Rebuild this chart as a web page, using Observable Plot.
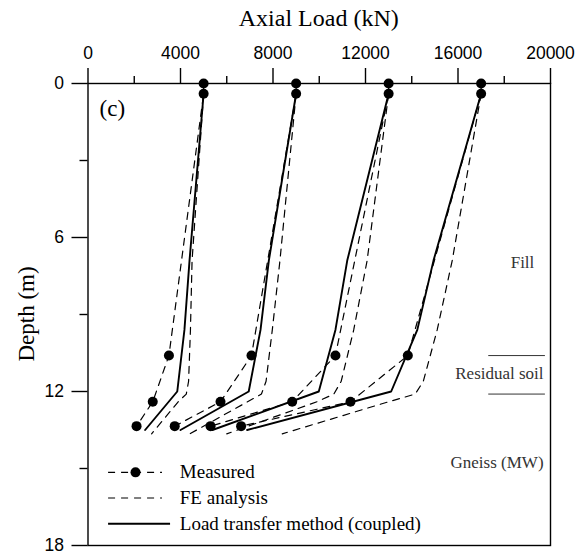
<!DOCTYPE html>
<html>
<head>
<meta charset="utf-8">
<script src="https://cdn.jsdelivr.net/npm/d3@7"></script>
<script src="https://cdn.jsdelivr.net/npm/@observablehq/plot@0.6"></script>
<style>
  body { margin: 0; background: #fff; }
  #chart { width: 587px; height: 553px; }
</style>
</head>
<body>
<div id="chart"></div>
<script>
// Measured (dashed with dots)
const measuredDepth = [0, 0.4, 10.6, 12.4, 13.35];
const measured1 = [5000, 5000, 3500, 2800, 2100];
const measured2 = [9000, 9000, 7070, 5730, 3750];
const measured3 = [13000, 13000, 10700, 8830, 5300];
const measured4 = [17000, 17000, 13830, 11350, 6620];

// FE analysis (dashed)
const feDepth = [0.4, 6.9, 9.6, 11.6, 12.1, 12.4, 13.65];
const fe1 = [5000, 4500, 4430, 4350, 4250, 3900, 2750];
const fe2 = [9000, 8300, 7970, 7700, 7500, 6900, 4400];
const fe3 = [13000, 12070, 11490, 10950, 10630, 9900, 6000];
const fe4 = [17000, 15750, 15100, 14500, 14150, 13000, 8400];

// Load transfer method (solid)
const ltDepth = [0.4, 6.9, 9.6, 12.0, 13.5];
const lt1 = [5000, 4390, 4170, 3860, 2470];
const lt2 = [9000, 7820, 7460, 6950, 4000];
const lt3 = [13000, 11210, 10700, 9980, 5380];
const lt4 = [17000, 14940, 14240, 13110, 6880];

// Layer annotations
const layerNames = ["Fill", "Residual soil", "Gneiss (MW)"];
const layerLabelX = [19300, 19700, 19700];
const layerLabelDepth = [6.98, 11.3, 14.76];
const layerBoundDepth = [10.6, 12.1];

const xTicksMajor = [0, 4000, 8000, 12000, 16000, 20000];
const xTicksMinor = [2000, 6000, 10000, 14000, 18000];
const yTicksMajor = [0, 6, 12, 18];
const yTicksMinor = [3, 9, 15];

const legendLabels = ["Measured", "FE analysis", "Load transfer method (coupled)"];

function rows(depths, series) {
  const out = [];
  series.forEach((vals, k) => vals.forEach((v, i) => out.push({curve: k, load: v, depth: depths[i]})));
  return out;
}
const measuredRows = rows(measuredDepth, [measured1, measured2, measured3, measured4]);
const feRows = rows(feDepth, [fe1, fe2, fe3, fe4]);
const ltRows = rows(ltDepth, [lt1, lt2, lt3, lt4]);

const serif = "'Liberation Serif', 'Times New Roman', serif";
const sans = "'Liberation Sans', Arial, sans-serif";

// Legend rows placed in data units (depth) at the lower-left
const legendDepth = [15.15, 16.15, 17.15];
const legendX0 = 890, legendX1 = 3220, legendX1Solid = 3570, legendText = 3970;

const chart = Plot.plot({
  width: 587,
  height: 553,
  marginLeft: 87.5,
  marginRight: 37,
  marginTop: 83,
  marginBottom: 8,
  x: {domain: [0, 20000]},
  y: {domain: [0, 18], reverse: true},
  style: {fontFamily: sans, background: "#fff"},
  marks: [
    Plot.frame({stroke: "#000", strokeWidth: 1.4}),
    // top x axis
    Plot.axisX({anchor: "top", ticks: xTicksMinor, tickSize: 8, label: null, strokeWidth: 1.4, text: null}),
    Plot.axisX({anchor: "top", ticks: xTicksMajor, tickSize: 16, tickPadding: 9, tickFormat: d => String(d), label: null, fontSize: 17.5, strokeWidth: 1.4, fill: "#000"}),
    // left y axis
    Plot.axisY({anchor: "left", ticks: yTicksMinor, tickSize: 8, label: null, strokeWidth: 1.4, text: null}),
    Plot.axisY({anchor: "left", ticks: yTicksMajor, tickSize: 16, tickPadding: 8, tickFormat: d => String(d), label: null, fontSize: 17.5, strokeWidth: 1.4, fill: "#000"}),
    // curves
    Plot.line(feRows, {x: "load", y: "depth", z: "curve", stroke: "#000", strokeWidth: 1.2, strokeDasharray: "7,6"}),
    Plot.line(measuredRows, {x: "load", y: "depth", z: "curve", stroke: "#000", strokeWidth: 1.2, strokeDasharray: "7,6"}),
    Plot.line(ltRows, {x: "load", y: "depth", z: "curve", stroke: "#000", strokeWidth: 1.9}),
    Plot.dot(measuredRows, {x: "load", y: "depth", r: 5, fill: "#000", stroke: "none"}),
    // panel label
    Plot.text(["(c)"], {x: 500, y: 0.97, text: d => d, textAnchor: "start", fontSize: 23, fontFamily: serif, fill: "#000"}),
    // layer labels
    Plot.text(layerNames, {x: layerLabelX, y: layerLabelDepth, text: d => d, textAnchor: "end", fontSize: 17, fontFamily: serif, fill: "#333"}),
    Plot.ruleY(layerBoundDepth, {x1: 17330, x2: 19780, stroke: "#333", strokeWidth: 1}),
    // legend
    Plot.ruleY([legendDepth[0]], {x1: legendX0, x2: legendX1, stroke: "#000", strokeWidth: 1.2, strokeDasharray: "7,6"}),
    Plot.dot([0], {x: (legendX0 + legendX1) / 2, y: legendDepth[0], r: 5, fill: "#000"}),
    Plot.ruleY([legendDepth[1]], {x1: legendX0, x2: legendX1, stroke: "#000", strokeWidth: 1.2, strokeDasharray: "7,6"}),
    Plot.ruleY([legendDepth[2]], {x1: legendX0, x2: legendX1Solid, stroke: "#000", strokeWidth: 1.9}),
    Plot.text(legendLabels, {x: legendText, y: legendDepth, text: d => d, textAnchor: "start", fontSize: 19, fontFamily: serif, fill: "#000"})
  ]
});

const svg = d3.select(chart);
// Axis titles
svg.append("text")
  .attr("x", 318.75).attr("y", 26)
  .attr("text-anchor", "middle")
  .attr("font-family", serif).attr("font-size", 24).attr("fill", "#000")
  .text("Axial Load (kN)");
svg.append("text")
  .attr("transform", "translate(34,314) rotate(-90)")
  .attr("text-anchor", "middle")
  .attr("font-family", serif).attr("font-size", 23).attr("fill", "#000")
  .text("Depth (m)");

document.getElementById("chart").appendChild(chart);
</script>
</body>
</html>
